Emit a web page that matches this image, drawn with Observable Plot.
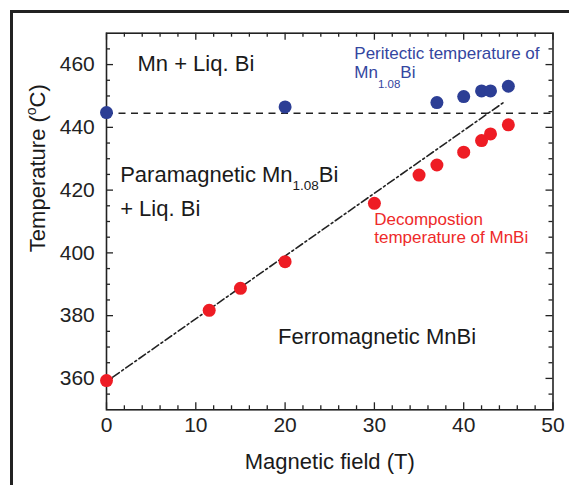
<!DOCTYPE html>
<html><head><meta charset="utf-8">
<script src="https://cdn.jsdelivr.net/npm/d3@7"></script>
<script src="https://cdn.jsdelivr.net/npm/@observablehq/plot@0.6"></script>
<style>
body{margin:0;background:#fff;width:569px;height:485px;overflow:hidden;position:relative;font-family:"Liberation Sans",Arial,Helvetica,sans-serif}
#chart{position:absolute;left:0;top:0}
#border{position:absolute;left:10px;top:10px;width:620px;height:540px;border-left:3px solid #222;border-top:3px solid #222;pointer-events:none}
</style></head>
<body><div id="chart"></div><div id="border"></div>
<script>
// Peritectic temperature of Mn1.08Bi (blue)
const peritecticField = [0, 20, 37, 40, 42, 43, 45];
const peritecticTemp  = [444.7, 446.5, 447.9, 449.8, 451.6, 451.6, 453.1];
// Decomposition temperature of MnBi (red)
const decompField = [0, 11.5, 15, 20, 30, 35, 37, 40, 42, 43, 45];
const decompTemp  = [359.3, 381.7, 388.7, 397.2, 415.8, 424.8, 428.0, 432.1, 435.8, 437.9, 440.8];
// reference lines
const peritecticLevel = [444.5];
const fitField = [0.7, 44.5];
const fitTemp  = [360.4, 448.0];
// axes
const xTicks = [0, 10, 20, 30, 40, 50];
const xMinorTicks = [2,4,6,8,12,14,16,18,22,24,26,28,32,34,36,38,42,44,46,48];
const yTicks = [360, 380, 400, 420, 440, 460];
const yMinorTicks = [355,365,370,375,385,390,395,405,410,415,425,430,435,445,450,455,465];
const xLabel = "Magnetic field (T)";
const yLabel = "Temperature (^{o}C)";
// region annotations (text, field, temperature)
const blackLabels = ["Mn + Liq. Bi", "Paramagnetic Mn_{1.08}Bi", "+ Liq. Bi", "Ferromagnetic MnBi"];
const blackLabelField = [3.47, 1.53, 1.53, 19.2];
const blackLabelTemp  = [458.1, 422.5, 411.9, 371.0];
const blueLabels = ["Peritectic temperature of", "Mn_{1.08}Bi"];
const blueLabelField = [27.75, 27.75];
const blueLabelTemp  = [461.7, 455.6];
const redLabels = ["Decompostion", "temperature of MnBi"];
const redLabelField = [29.98, 29.98];
const redLabelTemp  = [408.8, 403.1];

const W = 569, H = 485, mL = 106, mR = 16.5, mT = 32.7, mB = 75.7;
const fw = W - mL - mR, fh = H - mT - mB;
const ink = "#222";
const blue = "#2c3e95", red = "#ee1c24";

const per = peritecticField.map((x, i) => ({x, y: peritecticTemp[i]}));
const dec = decompField.map((x, i) => ({x, y: decompTemp[i]}));
const fit = fitField.map((x, i) => ({x, y: fitTemp[i]}));
const zipLabels = (t, xs, ys) => t.map((text, i) => ({text, x: xs[i], y: ys[i]}));

const chart = Plot.plot({
  width: W, height: H,
  marginLeft: mL, marginRight: mR, marginTop: mT, marginBottom: mB,
  style: {fontFamily: '"Liberation Sans", Arial, Helvetica, sans-serif', background: "transparent", color: ink, overflow: "visible"},
  x: {domain: [0, 50]},
  y: {domain: [350, 470]},
  marks: [
    Plot.axisX(xTicks, {tickSize: 0, tickPadding: 7.5, fontSize: 21, label: null, fill: ink}),
    Plot.axisY(yTicks, {tickSize: 0, tickPadding: 11.7, fontSize: 21, label: null, fill: ink}),
    // inward ticks on all four sides
    Plot.tickX(xTicks, {x: d => d, insetTop: fh - 7, stroke: ink, strokeWidth: 1.3}),
    Plot.tickX(xTicks, {x: d => d, insetBottom: fh - 7, stroke: ink, strokeWidth: 1.3}),
    Plot.tickX(xMinorTicks, {x: d => d, insetTop: fh - 4, stroke: ink, strokeWidth: 1.3}),
    Plot.tickX(xMinorTicks, {x: d => d, insetBottom: fh - 4, stroke: ink, strokeWidth: 1.3}),
    Plot.tickY(yTicks, {y: d => d, insetRight: fw - 7, stroke: ink, strokeWidth: 1.3}),
    Plot.tickY(yTicks, {y: d => d, insetLeft: fw - 7, stroke: ink, strokeWidth: 1.3}),
    Plot.tickY(yMinorTicks, {y: d => d, insetRight: fw - 4, stroke: ink, strokeWidth: 1.3}),
    Plot.tickY(yMinorTicks, {y: d => d, insetLeft: fw - 4, stroke: ink, strokeWidth: 1.3}),
    Plot.frame({stroke: ink, strokeWidth: 1.6}),
    Plot.ruleY(peritecticLevel, {y: d => d, stroke: ink, strokeWidth: 1.6, strokeDasharray: "7,5.5"}),
    Plot.line(fit, {x: "x", y: "y", stroke: ink, strokeWidth: 1.6, strokeDasharray: "8,3,2,3"}),
    Plot.dot(per, {x: "x", y: "y", r: 6.5, fill: blue}),
    Plot.dot(dec, {x: "x", y: "y", r: 6.5, fill: red}),
    Plot.text(zipLabels(blackLabels, blackLabelField, blackLabelTemp), {x: "x", y: "y", text: "text", textAnchor: "start", lineAnchor: "bottom", fontSize: 22, fill: "#1a1a1a"}),
    Plot.text(zipLabels(blueLabels, blueLabelField, blueLabelTemp), {x: "x", y: "y", text: "text", textAnchor: "start", lineAnchor: "bottom", fontSize: 17, fill: "#3446a0"}),
    Plot.text(zipLabels(redLabels, redLabelField, redLabelTemp), {x: "x", y: "y", text: "text", textAnchor: "start", lineAnchor: "bottom", fontSize: 17, fill: "#ee2a2a"}),
    Plot.text([xLabel], {frameAnchor: "bottom", dy: 58.7, lineAnchor: "bottom", fontSize: 22, fill: "#1a1a1a"}),
    Plot.text([yLabel], {frameAnchor: "left", y: [427], dx: -69, rotate: -90, textAnchor: "middle", lineAnchor: "middle", fontSize: 22, fill: "#1a1a1a"})
  ]
});

// rich text: sub/superscripts
const rich = {
  "Paramagnetic Mn_{1.08}Bi": {size: 13.5, shift: 8},
  "Mn_{1.08}Bi": {size: 11.5, shift: 10},
  "Temperature (^{o}C)": {size: 14, shift: -9}
};
d3.select(chart).selectAll("text").each(function() {
  const t = this.textContent;
  const spec = rich[t];
  if (!spec) return;
  const parts = t.split(/([_^]\{[^}]*\})/).filter(Boolean);
  this.textContent = "";
  let pending = 0;
  for (const p of parts) {
    const ts = d3.select(this).append("tspan");
    const m = p.match(/^([_^])\{(.*)\}$/);
    if (m) {
      ts.text(m[2]).attr("font-size", spec.size).attr("dy", spec.shift);
      pending = -spec.shift;
    } else {
      ts.text(p);
      if (pending) { ts.attr("dy", pending); pending = 0; }
    }
  }
});

document.getElementById("chart").appendChild(chart);
</script>
</body></html>
